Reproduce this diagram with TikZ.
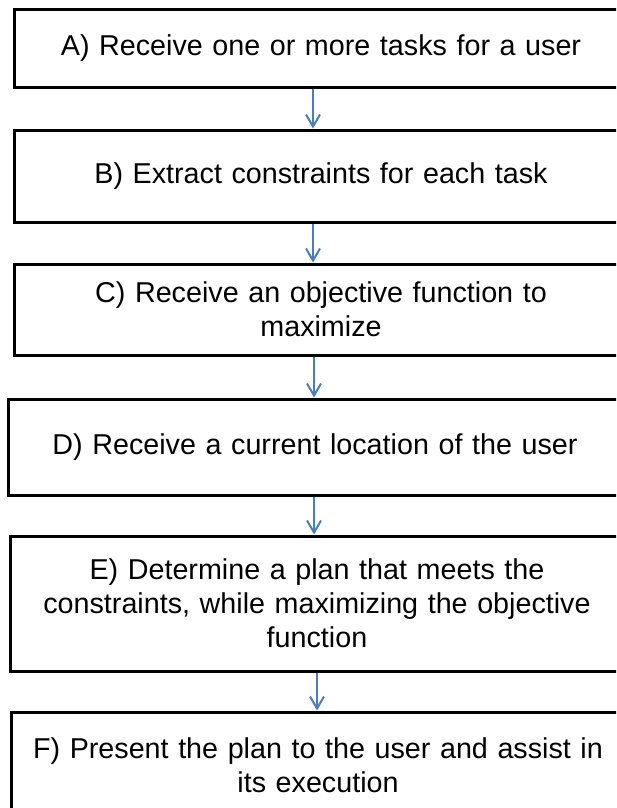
\documentclass[tikz,border=0pt]{standalone}
\usepackage{fontspec}
\setmainfont{Liberation Sans}
\usetikzlibrary{arrows.meta}
\definecolor{arrowblue}{HTML}{4A7EBB}
\newcommand\stepboxfont{\fontsize{28.7}{34}\selectfont\spaceskip=9.6pt plus 2pt minus 1pt\relax}
\tikzset{
  x=1pt, y=1pt,
  stepbox/.style={draw=black, line width=3pt, fill=white, minimum width=614pt,
    align=center, inner sep=0pt, font=\stepboxfont},
  flowarrow/.style={draw=arrowblue, line width=2pt,
    -{Straight Barb[length=12pt,width=14pt,line width=2pt]}},
}
\begin{document}
\begin{tikzpicture}
\useasboundingbox (0,0) rectangle (616,-808);
\clip (0,0) rectangle (616,-808);
\node[stepbox, minimum height=77pt] (A) at (321,-48.5) {A) Receive one or more tasks for a user};
\node[stepbox, minimum height=92pt] (B) at (321,-176) {B) Extract constraints for each task};
\node[stepbox, minimum height=91pt] (C) at (321,-309.5) {C) Receive an objective function to\\maximize};
\node[stepbox, minimum height=96pt] (D) at (315,-447) {D) Receive a current location of the user};
\node[stepbox, minimum height=135pt] (E) at (317,-603.5) {E) Determine a plan that meets the\\constraints, while maximizing the objective\\function};
\node[stepbox, minimum height=106pt] (F) at (318,-765) {F) Present the plan to the user and assist in\\its execution};
\draw[flowarrow] (A.south -| 313,0) -- (B.north -| 313,0);
\draw[flowarrow] (B.south -| 313,0) -- (C.north -| 313,0);
\draw[flowarrow] (C.south -| 314,0) -- (D.north -| 314,0);
\draw[flowarrow] (D.south -| 314,0) -- (E.north -| 314,0);
\draw[flowarrow] (E.south -| 317,0) -- (F.north -| 317,0);
\end{tikzpicture}
\end{document}
